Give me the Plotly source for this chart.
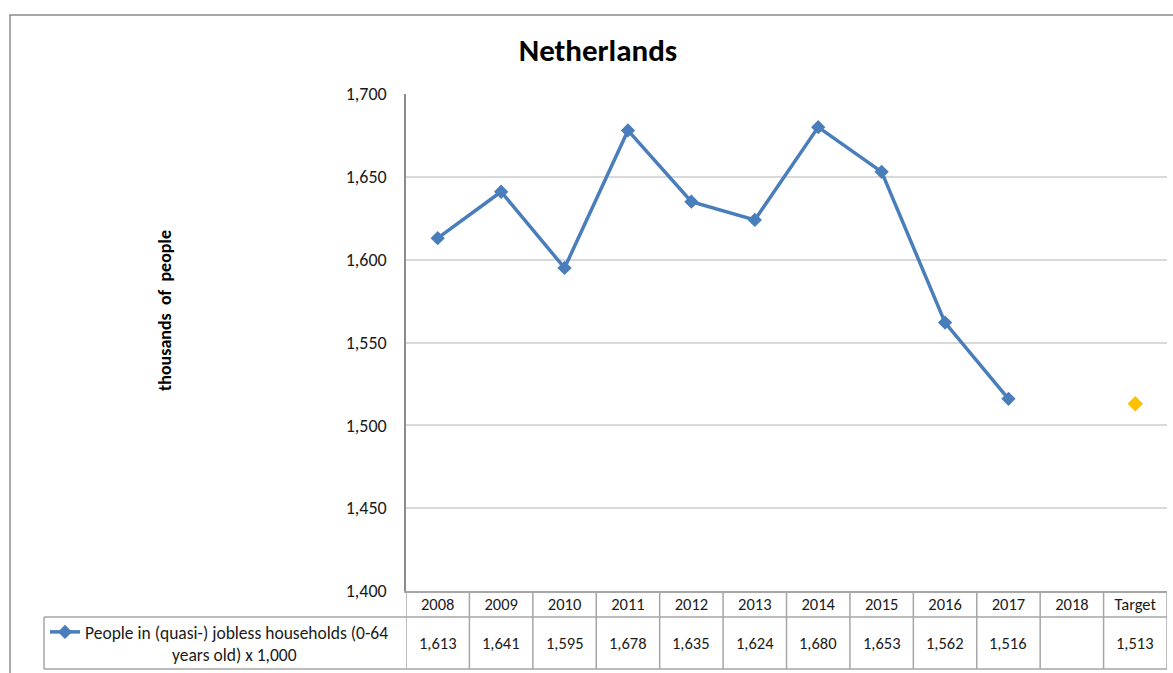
import plotly.graph_objects as go

categories = ["2008", "2009", "2010", "2011", "2012", "2013", "2014", "2015", "2016", "2017", "2018", "Target"]
series_values = [1613, 1641, 1595, 1678, 1635, 1624, 1680, 1653, 1562, 1516, None, None]
target_values = [None] * 11 + [1513]
series_name = "People in (quasi-) jobless households (0-64<br>" + "&nbsp;" * 22 + "years old) x 1,000"
y_ticks = [1400, 1450, 1500, 1550, 1600, 1650, 1700]

FONT = "Carlito, Calibri, 'Liberation Sans Narrow', 'Open Sans', sans-serif"
W, H = 1173, 673
L, R, T, B = 406, 6, 94, 82
PW = W - L - R
PH = H - T - B

def px_x(p):
    return (p - L) / PW

def px_y(p):
    return (H - B - p) / PH

idx = list(range(len(categories)))

fig = go.Figure()
fig.add_trace(go.Scatter(
    x=idx, y=series_values, mode="lines+markers", name=series_name,
    line=dict(color="#4A7EBB", width=3.5),
    marker=dict(symbol="diamond", size=11, color="#4A7EBB"),
    connectgaps=False,
))
fig.add_trace(go.Scatter(
    x=idx, y=target_values, mode="markers", showlegend=False,
    marker=dict(symbol="diamond", size=12, color="#FFC000"),
))

shapes = []
line_col = "#A6A6A6"
y_hdr_bottom = px_y(617)
y_tab_bottom = px_y(669)
for i in range(len(categories) + 1):
    shapes.append(dict(type="line", xref="x", yref="paper", x0=i - 0.5, x1=i - 0.5,
                       y0=0, y1=y_tab_bottom, line=dict(color=line_col, width=1.5)))
for yy in (y_hdr_bottom, y_tab_bottom):
    shapes.append(dict(type="line", xref="paper", yref="paper", x0=px_x(44), x1=1,
                       y0=yy, y1=yy, line=dict(color=line_col, width=1.5)))
shapes.append(dict(type="line", xref="paper", yref="paper", x0=px_x(44), x1=px_x(44),
                   y0=y_hdr_bottom, y1=y_tab_bottom, line=dict(color=line_col, width=1.5)))
shapes.append(dict(type="rect", xref="paper", yref="paper", x0=px_x(10), x1=px_x(1185),
                   y0=px_y(700), y1=px_y(15), line=dict(color="#8C8C8C", width=1.5),
                   fillcolor="rgba(0,0,0,0)"))

annotations = []
for i, (v, t) in enumerate(zip(series_values, target_values)):
    val = v if v is not None else t
    if val is None:
        continue
    annotations.append(dict(x=i, y=px_y(643), xref="x", yref="paper", text=f"{val:,}",
                            showarrow=False, font=dict(family=FONT, size=16.5, color="#1a1a1a"),
                            xanchor="center", yanchor="middle"))
annotations.append(dict(x=px_x(165), y=px_y(311), xref="paper", yref="paper",
                        text="<b>thousands  of  people</b>", textangle=-90, showarrow=False,
                        font=dict(family=FONT, size=18, color="#000000"),
                        xanchor="center", yanchor="middle"))

fig.update_layout(
    width=W, height=H,
    margin=dict(l=L, r=R, t=T, b=B, autoexpand=False),
    paper_bgcolor="white", plot_bgcolor="white",
    title=dict(text="<b>Netherlands</b>", x=px_x(598), xref="paper", xanchor="center",
               y=1 - 50 / H, yanchor="middle", font=dict(family=FONT, size=31, color="#000000")),
    xaxis=dict(range=[-0.5, len(categories) - 0.5], tickmode="array", tickvals=idx,
               ticktext=categories, showgrid=False, zeroline=False, automargin=False,
               showline=True, linecolor=line_col, linewidth=1.5, ticklabelstandoff=-3,
               tickfont=dict(family=FONT, size=16.5, color="#1a1a1a"), ticks="", fixedrange=True),
    yaxis=dict(range=[1400, 1700], tickmode="array", tickvals=y_ticks, automargin=False,
               ticktext=[f"{v:,}" for v in y_ticks], showgrid=True, gridcolor="#D9D9D9",
               gridwidth=1.5, zeroline=False, showline=True, linecolor="#8C8C8C", linewidth=1.5,
               tickfont=dict(family=FONT, size=18, color="#1a1a1a"), ticks="",
               ticklabelstandoff=14),
    legend=dict(x=px_x(45), y=px_y(614), xanchor="left", yanchor="top",
                bgcolor="rgba(0,0,0,0)", font=dict(family=FONT, size=17.5, color="#1a1a1a"),
                valign="top", itemwidth=30, tracegroupgap=0),
    showlegend=True,
    shapes=shapes, annotations=annotations,
)

fig.write_html("out.html")
